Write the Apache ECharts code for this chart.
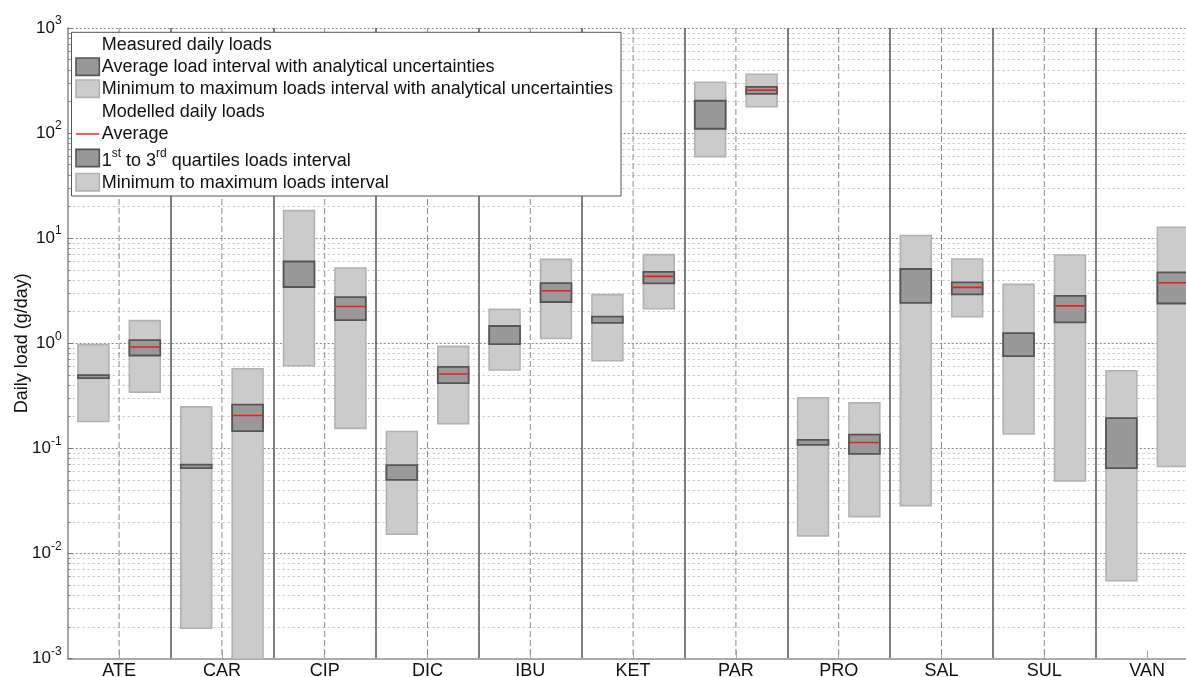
<!DOCTYPE html>
<html><head><meta charset="utf-8">
<script src="https://cdn.jsdelivr.net/npm/echarts@6/dist/echarts.min.js"></script>
<style>html,body{margin:0;padding:0;background:#fff}#c{width:1186px;height:677px}</style>
</head><body><div id="c"></div>
<script>
const categories = ['ATE','CAR','CIP','DIC','IBU','KET','PAR','PRO','SAL','SUL','VAN'];
// Measured daily loads (g/day)
const measMin     = [0.18, 0.00194, 0.61, 0.0152, 0.556, 0.681, 59.7, 0.0147, 0.0285, 0.137, 0.0055];
const measMax     = [0.97, 0.248, 18.3, 0.1445, 2.10, 2.90, 305, 0.303, 10.6, 3.63, 0.547];
const measAvgLow  = [0.466, 0.0648, 3.43, 0.0501, 0.98, 1.56, 110, 0.108, 2.42, 0.755, 0.0648];
const measAvgHigh = [0.497, 0.070, 6.0, 0.0692, 1.46, 1.79, 203, 0.1205, 5.09, 1.25, 0.194];
// Modelled daily loads (g/day)
const modMin = [0.343, 0.0008, 0.155, 0.172, 1.11, 2.13, 178, 0.0224, 1.79, 0.049, 0.0671];
const modMax = [1.64, 0.571, 5.2, 0.933, 6.28, 6.97, 363, 0.271, 6.34, 6.92, 12.7];
const modQ1  = [0.765, 0.146, 1.66, 0.418, 2.47, 3.71, 236, 0.0887, 2.92, 1.58, 2.39];
const modQ3  = [1.07, 0.261, 2.75, 0.597, 3.74, 4.77, 275, 0.135, 3.79, 2.82, 4.72];
const modAvg = [0.92, 0.205, 2.24, 0.509, 3.16, 4.33, 256, 0.1135, 3.40, 2.27, 3.77];
// Categories carrying a dashed centre line
const dashedCats = ['ATE','CAR','CIP','DIC','IBU','KET','PAR','PRO','SAL','SUL'];
const yMin = 0.001, yMax = 1000;

const FONT = 'Liberation Sans, Arial, sans-serif';
const BOXW = 0.30;

function boxSeries(name, offset, lows, highs, fill, stroke, lw, z) {
  return {
    type: 'custom', name: name, clip: true, z: z,
    data: categories.map((c, i) => [c, lows[i], highs[i]]),
    encode: { x: 0, y: [1, 2] },
    renderItem: function (params, api) {
      const i = api.value(0);
      const pLow = api.coord([i, api.value(1)]);
      const pHigh = api.coord([i, api.value(2)]);
      const band = api.size([1, 0], [0, 1])[0];
      const w = band * BOXW;
      const cx = pLow[0] + offset * band;
      return {
        type: 'rect',
        shape: { x: cx - w / 2, y: pHigh[1], width: w, height: pLow[1] - pHigh[1] },
        style: { fill: fill, stroke: stroke, lineWidth: lw }
      };
    }
  };
}

const avgSeries = {
  type: 'custom', name: 'Average', clip: true, z: 6,
  data: categories.map((c, i) => [c, modAvg[i]]),
  encode: { x: 0, y: 1 },
  renderItem: function (params, api) {
    const i = api.value(0);
    const p = api.coord([i, api.value(1)]);
    const band = api.size([1, 0], [0, 1])[0];
    const w = band * BOXW;
    const cx = p[0] + 0.25 * band;
    return {
      type: 'line',
      shape: { x1: cx - w / 2 + 1, y1: p[1], x2: cx + w / 2 - 1, y2: p[1] },
      style: { stroke: '#ee1c1c', lineWidth: 1.6 }
    };
  }
};

const centerSeries = {
  type: 'custom', name: 'centres', z: 1, silent: true,
  data: dashedCats.map(c => [c, 1]),
  encode: { x: 0, y: 1 },
  renderItem: function (params, api) {
    const i = api.value(0);
    const top = api.coord([i, yMax]);
    const bot = api.coord([i, yMin]);
    return {
      type: 'line',
      shape: { x1: top[0], y1: top[1], x2: bot[0], y2: bot[1] },
      style: { stroke: '#8a8a8a', lineWidth: 1, lineDash: [6, 3] }
    };
  }
};

// Legend (drawn as graphic elements)
const LX = 71.5, LY = 32.3, LW = 549.5, LH = 163.7;
const TX = 101.7, PX = 76, PW = 23.3, PH = 17.3;
const legendRows = [
  { kind: 'header', text: 'Measured daily loads', ty: 45 },
  { kind: 'dark', text: 'Average load interval with analytical uncertainties', ty: 67.3, py: 66.7 },
  { kind: 'light', text: 'Minimum to maximum loads interval with analytical uncertainties', ty: 89.3, py: 88.7 },
  { kind: 'header', text: 'Modelled daily loads', ty: 111.7 },
  { kind: 'red', text: 'Average', ty: 134, py: 134 },
  { kind: 'dark', text: '{t|1}{s|st}{t| to 3}{s|rd}{t| quartiles loads interval}', ty: 161, py: 158, rich: true },
  { kind: 'light', text: 'Minimum to maximum loads interval', ty: 182.8, py: 182.2 }
];
const LZ = 100;
const legendEls = [{
  type: 'rect', z: LZ, shape: { x: LX, y: LY, width: LW, height: LH },
  style: { fill: '#fff', stroke: '#555', lineWidth: 1 }
}];
legendRows.forEach(r => {
  if (r.kind === 'dark' || r.kind === 'light') {
    legendEls.push({
      type: 'rect', z: LZ + 1, shape: { x: PX, y: r.py - PH / 2, width: PW, height: PH },
      style: r.kind === 'dark' ? { fill: '#999', stroke: '#555', lineWidth: 1.6 } : { fill: '#ccc', stroke: '#b2b2b2', lineWidth: 1.6 }
    });
  } else if (r.kind === 'red') {
    legendEls.push({
      type: 'line', z: LZ + 1, shape: { x1: PX, y1: r.py, x2: PX + PW, y2: r.py },
      style: { stroke: '#ee1c1c', lineWidth: 1.4 }
    });
  }
  const st = { x: TX, y: r.ty, text: r.text, fill: '#111', font: '18px ' + FONT, verticalAlign: 'middle', align: 'left' };
  if (r.rich) {
    st.rich = {
      t: { fontSize: 18, fontFamily: FONT, lineHeight: 26, fill: '#111', color: '#111' },
      s: { fontSize: 12, fontFamily: FONT, lineHeight: 14, verticalAlign: 'top', fill: '#111', color: '#111' }
    };
  }
  legendEls.push({ type: 'text', z: LZ + 1, style: st });
});

const chart = echarts.init(document.getElementById('c'), null, { renderer: 'canvas' });
chart.setOption({
  animation: false,
  backgroundColor: '#fff',
  grid: { left: 67.7, right: -12.5, top: 28, bottom: 18.5, containLabel: false, outerBoundsMode: 'none' },
  xAxis: {
    type: 'category', data: categories, boundaryGap: true,
    axisLine: { show: true, lineStyle: { color: '#aaa', width: 2 } },
    axisTick: { show: true, alignWithLabel: true, inside: true, length: 8, lineStyle: { color: '#aaa', width: 1 } },
    axisLabel: { fontSize: 18, fontFamily: FONT, color: '#111', margin: 4 },
    splitLine: { show: true, showMinLine: false, lineStyle: { color: '#555', width: 1.5 } }
  },
  yAxis: {
    type: 'log', logBase: 10, min: yMin, max: yMax, splitNumber: 6,
    name: 'Daily load (g/day)', nameLocation: 'middle', nameGap: 37, nameMoveOverlap: false,
    nameTextStyle: { fontSize: 18, fontFamily: FONT, color: '#111' },
    axisLine: { show: true, lineStyle: { color: '#8a8a8a', width: 1.5 } },
    axisTick: { show: true, inside: true, length: 5, lineStyle: { color: '#777' } },
    minorTick: { show: true, splitNumber: 9, length: 3, lineStyle: { color: '#888' } },
    splitLine: { show: true, lineStyle: { type: [2, 2], color: '#8c8c8c', width: 1 } },
    minorSplitLine: { show: true, lineStyle: { type: [2, 3], color: '#c4c4c4', width: 1 } },
    axisLabel: {
      margin: 6, color: '#111',
      formatter: function (v) { const e = Math.round(Math.log10(v)); return '{b|10}{s|' + e + '}'; },
      rich: {
        b: { fontSize: 17, fontFamily: FONT, lineHeight: 26, color: '#111' },
        s: { fontSize: 12, fontFamily: FONT, lineHeight: 12, verticalAlign: 'top', color: '#111' }
      }
    }
  },
  series: [
    centerSeries,
    boxSeries('Measured min-max', -0.25, measMin, measMax, '#cbcbcb', '#b2b2b2', 1.6, 2),
    boxSeries('Measured average interval', -0.25, measAvgLow, measAvgHigh, '#999', '#555', 1.8, 3),
    boxSeries('Modelled min-max', 0.25, modMin, modMax, '#cbcbcb', '#b2b2b2', 1.6, 2),
    boxSeries('Modelled quartiles', 0.25, modQ1, modQ3, '#999', '#555', 1.8, 3),
    avgSeries
  ],
  graphic: [{ type: 'group', z: LZ, children: legendEls }]
});
</script></body></html>
